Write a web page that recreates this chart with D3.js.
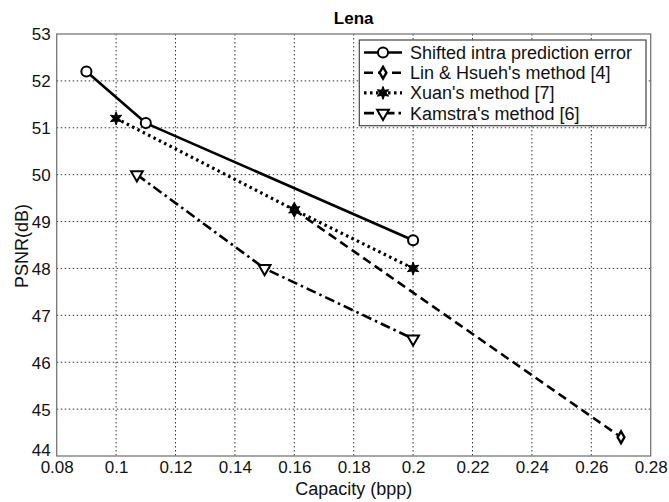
<!DOCTYPE html>
<html><head><meta charset="utf-8">
<script src="https://cdn.jsdelivr.net/npm/d3@7/dist/d3.min.js"></script>
<style>body{margin:0;background:#fff;}svg{display:block;}text{font-family:"Liberation Sans",Arial,sans-serif;}</style>
</head><body><svg id="c" width="669" height="502"></svg>
<script>
const title = "Lena";
const xLabel = "Capacity (bpp)";
const yLabel = "PSNR(dB)";
const xTicks = [0.08,0.1,0.12,0.14,0.16,0.18,0.2,0.22,0.24,0.26,0.28];
const yTicks = [44,45,46,47,48,49,50,51,52,53];
const seriesNames = ["Shifted intra prediction error","Lin & Hsueh's method [4]","Xuan's method [7]","Kamstra's method [6]"];
const shiftedX = [0.09,0.11,0.2];
const shiftedY = [52.2,51.1,48.6];
const linX = [0.16,0.27];
const linY = [49.25,44.4];
const xuanX = [0.1,0.16,0.2];
const xuanY = [51.2,49.25,48.0];
const kamX = [0.107,0.15,0.2];
const kamY = [50.0,48.0,46.5];

const svg = d3.select("#c");
const L=56.7,R=650.7,T=34,B=456;
const x = d3.scaleLinear().domain([0.08,0.28]).range([L,R]);
const y = d3.scaleLinear().domain([44,53]).range([B,T]);

// grid
const g = svg.append("g");
g.selectAll(".vg").data(xTicks.slice(1,-1)).enter().append("line")
 .attr("x1",d=>x(d)).attr("x2",d=>x(d)).attr("y1",T).attr("y2",B)
 .attr("stroke","#333").attr("stroke-width",1).attr("stroke-dasharray","1.5,2.5");
g.selectAll(".hg").data(yTicks.slice(1,-1)).enter().append("line")
 .attr("y1",d=>y(d)).attr("y2",d=>y(d)).attr("x1",L).attr("x2",R)
 .attr("stroke","#333").attr("stroke-width",1).attr("stroke-dasharray","1.5,2.5");

// axes
const xa = d3.axisBottom(x).tickValues(xTicks).tickFormat(d=>d3.format("")(+d.toFixed(2))).tickSize(0).tickPadding(5);
const ya = d3.axisLeft(y).tickValues(yTicks).tickSize(0).tickPadding(6);
const gx = svg.append("g").attr("transform",`translate(0,${B})`).call(xa);
const gy = svg.append("g").attr("transform",`translate(${L},0)`).call(ya);
[gx,gy].forEach(a=>{a.select(".domain").remove();a.selectAll("text").attr("font-size",17).attr("fill","#111").style("font-family","'Liberation Sans',Arial,sans-serif");});
gy.selectAll("text").attr("dy","0.35em");
gy.selectAll("text").filter(d=>d===44).attr("dy","-0.05em");
svg.append("rect").attr("x",L).attr("y",T).attr("width",R-L).attr("height",B-T)
 .attr("fill","none").attr("stroke","#777").attr("stroke-width",1.3);

// labels
svg.append("text").attr("x",(L+R)/2).attr("y",24).attr("text-anchor","middle").attr("font-size",17).attr("font-weight","bold").text(title);
svg.append("text").attr("x",(L+R)/2).attr("y",495).attr("text-anchor","middle").attr("font-size",18).attr("fill","#111").text(xLabel);
svg.append("text").attr("transform",`translate(28,246) rotate(-90)`).attr("text-anchor","middle").attr("font-size",18).attr("fill","#111").text(yLabel);

// custom hexagram symbol (size = outer radius here)
const hexagram = {draw(ctx,size){
  const r = size, ri = r*0.45;
  for(let i=0;i<12;i++){
    const a = -Math.PI/2 + i*Math.PI/6;
    const rr = i%2===0? r: ri;
    const px = rr*Math.cos(a), py = rr*Math.sin(a);
    if(i===0) ctx.moveTo(px,py); else ctx.lineTo(px,py);
  }
  ctx.closePath();
}};

const series = [
 {xs:shiftedX, ys:shiftedY, dash:null, w:2.6, sym:d3.symbolCircle, size:80, fill:"#fff", rot:0, sw:2},
 {xs:linX, ys:linY, dash:"9,5", w:2.6, sym:d3.symbolDiamond, size:40, fill:"#fff", rot:0, sw:2.4},
 {xs:xuanX, ys:xuanY, dash:"2.5,3.5", w:3.2, sym:hexagram, size:6.5, fill:"#000", rot:0, sw:1},
 {xs:kamX, ys:kamY, dash:"10,4,2.5,4", w:2.6, sym:d3.symbolTriangle, size:60, fill:"#fff", rot:180, sw:2}
];
const line = d3.line().x(d=>x(d[0])).y(d=>y(d[1]));
series.forEach(s=>{
  const pts = s.xs.map((v,i)=>[v,s.ys[i]]);
  svg.append("path").datum(pts).attr("d",line).attr("fill","none").attr("stroke","#000")
    .attr("stroke-width",s.w).attr("stroke-dasharray",s.dash).attr("stroke-linejoin","round");
  s.path = d3.symbol().type(s.sym).size(s.size)();
});
series.forEach(s=>{
  const pts = s.xs.map((v,i)=>[v,s.ys[i]]);
  svg.selectAll(null).data(pts).enter().append("path").attr("d",s.path)
    .attr("transform",d=>`translate(${x(d[0])},${y(d[1])}) rotate(${s.rot})`)
    .attr("fill",s.fill).attr("stroke","#000").attr("stroke-width",s.sw);
});

// legend
const lg = svg.append("g");
const lx=359.3, ly=40, lw=286.7, lh=85.7;
lg.append("rect").attr("x",lx).attr("y",ly).attr("width",lw).attr("height",lh).attr("fill","#fff").attr("stroke","#444").attr("stroke-width",1.2);
seriesNames.forEach((n,i)=>{
  const s = series[i];
  const yy = ly+12.5+i*20.2;
  lg.append("line").attr("x1",364).attr("x2",402).attr("y1",yy).attr("y2",yy)
    .attr("stroke","#000").attr("stroke-width",s.w).attr("stroke-dasharray",s.dash);
  lg.append("path").attr("d",s.path).attr("transform",`translate(383,${yy}) rotate(${s.rot})`)
    .attr("fill",s.fill).attr("stroke","#000").attr("stroke-width",s.sw);
  lg.append("text").attr("x",410).attr("y",yy).attr("dy","0.36em").attr("font-size",18).attr("fill","#111").text(n);
});
</script></body></html>
